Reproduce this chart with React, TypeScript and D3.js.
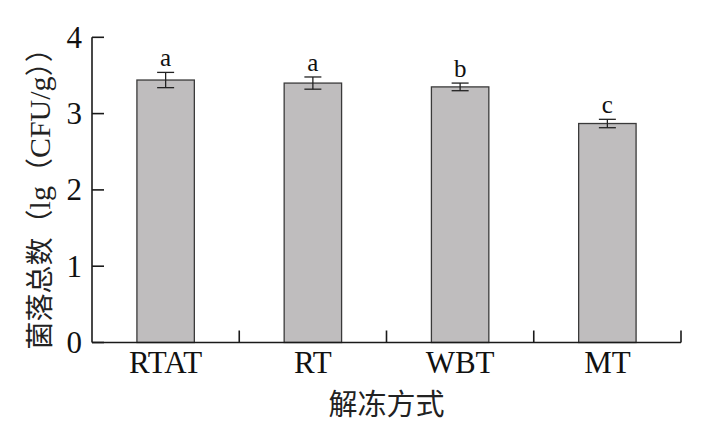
import React from "react";
import * as d3 from "d3";

const categories = ["RTAT", "RT", "WBT", "MT"];
const values = [3.44, 3.4, 3.35, 2.87];
const errors = [0.1, 0.08, 0.05, 0.055];
const letters = ["a", "a", "b", "c"];
const yTicks = [0, 1, 2, 3, 4];
const xLabel = "解冻方式";

const W = 726;
const H = 431;
const left = 92;
const right = 681;
const top = 37.3;
const bottom = 342.5;

export default function App() {
  const x = d3
    .scaleBand<string>()
    .domain(categories)
    .range([left, right])
    .paddingInner(0.61)
    .paddingOuter(0.305);
  const y = d3.scaleLinear().domain([0, 4]).range([bottom, top]);
  const step = x.step();
  const boundaries = categories.map((_, i) => left + step * (i + 1));
  const serif = "'Liberation Serif', 'DejaVu Serif', serif";
  const cjk = "'Noto Sans CJK SC', sans-serif";
  const axisColor = "#1a1a1a";

  return (
    <svg
      width={W}
      height={H}
      style={{ position: "absolute", left: 0, top: 0, background: "#fff" }}
    >
      {/* bars */}
      {categories.map((c, i) => {
        const bx = x(c)!;
        const bw = x.bandwidth();
        const cx = bx + bw / 2;
        const yv = y(values[i]);
        const yt = y(values[i] + errors[i]);
        const yb = y(values[i] - errors[i]);
        return (
          <g key={c}>
            <rect
              x={bx}
              y={yv}
              width={bw}
              height={bottom - yv}
              fill="#bfbdbe"
              stroke="#3a3a3a"
              strokeWidth={1.3}
            />
            <line x1={cx} x2={cx} y1={yt} y2={yb} stroke="#222" strokeWidth={1.3} />
            <line x1={cx - 8.5} x2={cx + 8.5} y1={yt} y2={yt} stroke="#222" strokeWidth={1.3} />
            <line x1={cx - 8.5} x2={cx + 8.5} y1={yb} y2={yb} stroke="#222" strokeWidth={1.3} />
            <text
              x={cx}
              y={yt - 6}
              textAnchor="middle"
              fontFamily={serif}
              fontSize={25}
              fill="#111"
            >
              {letters[i]}
            </text>
          </g>
        );
      })}

      {/* y axis */}
      <line x1={left} x2={left} y1={top} y2={bottom} stroke={axisColor} strokeWidth={1.6} />
      {yTicks.map((t) => (
        <g key={t}>
          <line
            x1={left}
            x2={left + 12}
            y1={y(t)}
            y2={y(t)}
            stroke={axisColor}
            strokeWidth={1.6}
          />
          <text
            x={left - 10}
            y={y(t)}
            dy="0.34em"
            textAnchor="end"
            fontFamily={serif}
            fontSize={31}
            fill="#111"
          >
            {t}
          </text>
        </g>
      ))}

      {/* x axis */}
      <line x1={left} x2={right} y1={bottom} y2={bottom} stroke={axisColor} strokeWidth={1.6} />
      {boundaries.map((bx, i) => (
        <line
          key={i}
          x1={bx}
          x2={bx}
          y1={bottom}
          y2={bottom - 12}
          stroke={axisColor}
          strokeWidth={1.6}
        />
      ))}
      {categories.map((c) => (
        <text
          key={c}
          x={x(c)! + x.bandwidth() / 2}
          y={373}
          textAnchor="middle"
          fontFamily={serif}
          fontSize={31}
          fill="#111"
        >
          {c}
        </text>
      ))}

      {/* axis titles */}
      <text
        x={(left + right) / 2}
        y={415}
        textAnchor="middle"
        fontFamily={cjk}
        fontSize={29}
        fill="#222"
      >
        {xLabel}
      </text>
      <text
        transform={`translate(50, ${(top + bottom) / 2 + 2}) rotate(-90)`}
        textAnchor="middle"
        fontSize={28}
        fill="#222"
      >
        <tspan fontFamily={cjk}>菌落总数（</tspan>
        <tspan fontFamily={serif} fontSize={30}>lg</tspan>
        <tspan fontFamily={cjk}>（</tspan>
        <tspan fontFamily={serif} fontSize={30}>CFU/g</tspan>
        <tspan fontFamily={cjk}>））</tspan>
      </text>
    </svg>
  );
}
